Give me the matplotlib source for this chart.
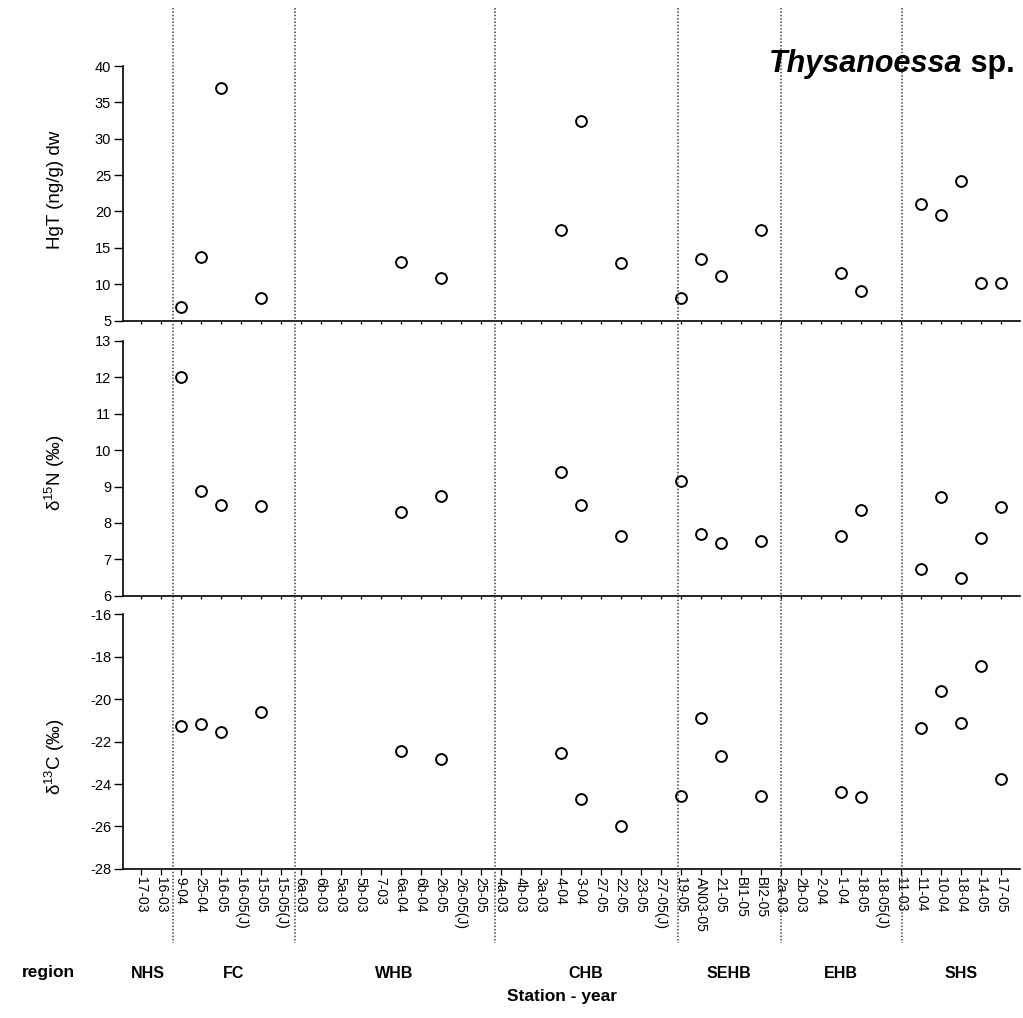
import numpy as np
import matplotlib
matplotlib.use("Agg")
import matplotlib.pyplot as plt
from matplotlib import font_manager
from matplotlib.lines import Line2D
from matplotlib.transforms import blended_transform_factory

# stations along the x axis, grouped by region
stations = ["17-03", "16-03",
            "9-04", "25-04", "16-05", "16-05(J)", "15-05", "15-05(J)",
            "6a-03", "6b-03", "5a-03", "5b-03", "7-03", "6a-04", "6b-04",
            "26-05", "26-05(J)", "25-05",
            "4a-03", "4b-03", "3a-03", "4-04", "3-04", "27-05", "22-05",
            "23-05", "27-05(J)",
            "19-05", "AN03-05", "21-05", "BI1-05", "BI2-05",
            "2a-03", "2b-03", "2-04", "1-04", "18-05", "18-05(J)",
            "11-03", "11-04", "10-04", "18-04", "14-05", "17-05"]
regions = ["NHS", "FC", "WHB", "CHB", "SEHB", "EHB", "SHS"]
region_sizes = [2, 6, 10, 9, 5, 6, 6]

# stations where Thysanoessa was analysed
sampled = ["9-04", "25-04", "16-05", "15-05",
           "6a-04", "26-05",
           "4-04", "3-04", "22-05",
           "19-05", "AN03-05", "21-05", "BI2-05",
           "1-04", "18-05",
           "11-04", "10-04", "18-04", "14-05", "17-05"]
hgt = [6.9, 13.7, 37.0, 8.1,
       13.0, 10.8,
       17.4, 32.4, 12.9,
       8.1, 13.5, 11.1, 17.5,
       11.5, 9.1,
       21.0, 19.5, 24.2, 10.1, 10.2]
d15n = [12.0, 8.88, 8.5, 8.47,
        8.3, 8.75,
        9.4, 8.5, 7.65,
        9.15, 7.7, 7.45, 7.5,
        7.65, 8.35,
        6.75, 8.7, 6.5, 7.6, 8.45]
d13c = [-21.25, -21.17, -21.54, -20.6,
        -22.45, -22.8,
        -22.55, -24.7, -25.97,
        -24.57, -20.9, -22.7, -24.55,
        -24.37, -24.6,
        -21.35, -19.6, -21.1, -18.45, -23.78]

names = {f.name for f in font_manager.fontManager.ttflist}
plt.rcParams["font.family"] = "Liberation Sans"
plt.rcParams["axes.unicode_minus"] = False
plt.rcParams["mathtext.default"] = "regular"
narrow = "Liberation Sans Narrow" if "Liberation Sans Narrow" in names else "Liberation Sans"

W, H = 1023, 1018
fig = plt.figure(figsize=(W / 100, H / 100), dpi=100)


def frame(top, bottom):
    return [123 / W, 1 - bottom / H, 897 / W, (bottom - top) / H]


xlim = (-0.885, 43.97)
xpos = [stations.index(s) for s in sampled]

panels = [
    (hgt, (5, 40), np.arange(5, 41, 5), "HgT (ng/g) dw", 66, 320.5, 190),
    (d15n, (6, 13), np.arange(6, 14, 1), "δ$^{15}$N (‰)", 340.7, 595.9, 473),
    (d13c, (-28, -16), np.arange(-28, -15, 2), "δ$^{13}$C (‰)", 614.3, 868.9, 757),
]

axes = []
for i, (vals, ylim, yt, lab, top, bot, ymid) in enumerate(panels):
    ax = fig.add_axes(frame(top, bot))
    ax.plot(xpos, vals, ls="none", marker="o", ms=7.8, mfc="white",
            mec="black", mew=1.4, clip_on=False, zorder=3)
    ax.set_xlim(*xlim)
    ax.set_ylim(*ylim)
    ax.set_yticks(yt)
    ax.set_yticklabels([str(int(v)) for v in yt], fontsize=10.5)
    ax.set_xticks(range(len(stations)))
    if i == len(panels) - 1:
        ax.set_xticklabels(stations, rotation=270, fontsize=10)
        ax.tick_params(axis="x", length=4.5, width=0.9, pad=1.5)
    else:
        ax.set_xticklabels([])
        ax.tick_params(axis="x", length=2.5, width=0.9)
    ax.tick_params(axis="y", length=6.5, width=1.0, pad=2)
    for s in ("top", "right"):
        ax.spines[s].set_visible(False)
    for s in ("left", "bottom"):
        ax.spines[s].set_linewidth(1.2)
    ax.patch.set_alpha(0)
    fig.text(55 / W, 1 - ymid / H, lab, rotation=90, ha="center",
             va="center", fontsize=13.5)
    axes.append(ax)

# dotted dividers between regions, running through all three panels
starts = np.cumsum(region_sizes)[:-1]
nudge = [0.1, 0.2, 0.2, 0.35, 0.5, 0.55]
dividers = [s - 0.5 + n for s, n in zip(starts, nudge)]
trans = blended_transform_factory(axes[-1].transData, fig.transFigure)
for d in dividers:
    fig.add_artist(Line2D([d, d], [1 - 8 / H, 1 - 943 / H], transform=trans,
                          color="0.25", lw=1.1, ls=(0, (1, 1.2))))

# region names centred between dividers
edges = [xlim[0]] + dividers + [xlim[1]]
row_y = 1 - 973 / H
fig.text(48 / W, row_y, "region", ha="center", va="center",
         fontsize=12.5, weight="bold", family=narrow)
for k, name in enumerate(regions):
    mid = 0.5 * (edges[k] + edges[k + 1])
    fig.text(mid, row_y, name, ha="center", va="center", fontsize=11.5,
             weight="bold", family=narrow, transform=trans)
fig.text(562 / W, 1 - 997 / H, "Station - year", ha="center", va="center",
         fontsize=12.5, weight="bold", family=narrow)

# species name, top right
base = 1 - 72 / H
sp = fig.text(1015 / W, base, " sp.", ha="right", va="baseline",
              fontsize=22, weight="bold")
fig.canvas.draw()
bb = sp.get_window_extent()
fig.text(bb.x0 / fig.bbox.width, base, "Thysanoessa", ha="right",
         va="baseline", fontsize=22, weight="bold", style="italic")

fig.savefig("out.png", dpi=100)
